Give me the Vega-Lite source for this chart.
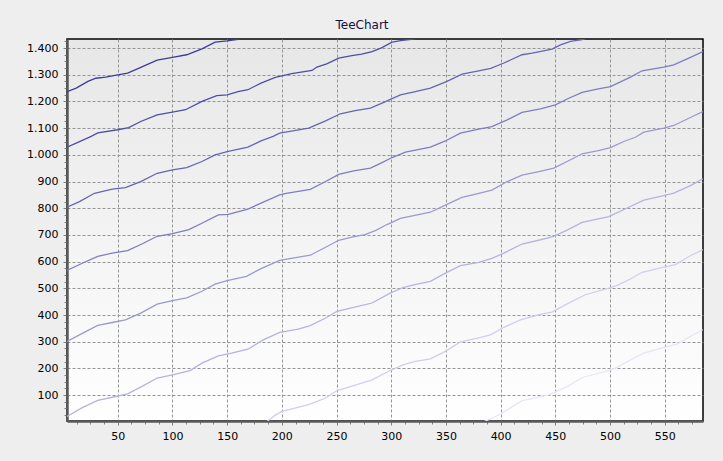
{
  "$schema": "https://vega.github.io/schema/vega-lite/v6.json",
  "width": 636,
  "height": 382,
  "autosize": {"type": "none"},
  "padding": {"left": 67, "top": 39, "right": 20, "bottom": 40},
  "background": "#eeeeee",
  "title": {"text": "TeeChart", "fontSize": 12, "fontWeight": "normal", "font": "DejaVu Sans", "color": "#10104a", "offset": 3, "dx": -23},
  "config": {
    "view": {"stroke": "#000000", "strokeWidth": 1.5, "fill": {"gradient": "linear", "x1": 0, "y1": 0, "x2": 0, "y2": 1, "stops": [{"offset": 0, "color": "#e7e7e7"}, {"offset": 1, "color": "#ffffff"}]}},
    "axis": {
      "labelFont": "DejaVu Sans",
      "labelFontSize": 11,
      "labelColor": "#000000",
      "domainColor": "#5a5a5a",
      "domainWidth": 2.5,
      "tickColor": "#808080",
      "gridColor": "#959595",
      "gridDash": [3, 2],
      "gridWidth": 1,
      "labelOverlap": false,
      "labelFlush": false,
      "title": null
    }
  },
  "data": {"values": [
    {"s": "1", "x": 3.6, "y": 1237}, {"s": "1", "x": 12, "y": 1250}, {"s": "1", "x": 22.7, "y": 1275}, {"s": "1", "x": 30, "y": 1287}, {"s": "1", "x": 39, "y": 1291}, {"s": "1", "x": 50, "y": 1300}, {"s": "1", "x": 59, "y": 1306}, {"s": "1", "x": 69.5, "y": 1325}, {"s": "1", "x": 86, "y": 1355}, {"s": "1", "x": 100, "y": 1365}, {"s": "1", "x": 113, "y": 1375}, {"s": "1", "x": 127, "y": 1397}, {"s": "1", "x": 139, "y": 1422}, {"s": "1", "x": 150, "y": 1427}, {"s": "1", "x": 161.6, "y": 1434}, {"s": "1", "x": 172, "y": 1448},

    {"s": "2", "x": 3.6, "y": 1029}, {"s": "2", "x": 12, "y": 1044}, {"s": "2", "x": 25.7, "y": 1069}, {"s": "2", "x": 31.7, "y": 1082}, {"s": "2", "x": 50, "y": 1094}, {"s": "2", "x": 60, "y": 1102}, {"s": "2", "x": 71, "y": 1125}, {"s": "2", "x": 86, "y": 1150}, {"s": "2", "x": 100, "y": 1160}, {"s": "2", "x": 112, "y": 1169}, {"s": "2", "x": 127, "y": 1200}, {"s": "2", "x": 140.5, "y": 1222}, {"s": "2", "x": 150, "y": 1225}, {"s": "2", "x": 160, "y": 1237}, {"s": "2", "x": 169, "y": 1244}, {"s": "2", "x": 181, "y": 1269}, {"s": "2", "x": 194, "y": 1290}, {"s": "2", "x": 209, "y": 1304}, {"s": "2", "x": 227.6, "y": 1316}, {"s": "2", "x": 232, "y": 1329}, {"s": "2", "x": 241, "y": 1341}, {"s": "2", "x": 252, "y": 1362}, {"s": "2", "x": 264, "y": 1372}, {"s": "2", "x": 273, "y": 1377}, {"s": "2", "x": 282.5, "y": 1387}, {"s": "2", "x": 291.6, "y": 1402}, {"s": "2", "x": 300.7, "y": 1422}, {"s": "2", "x": 310, "y": 1429}, {"s": "2", "x": 320.5, "y": 1434}, {"s": "2", "x": 330, "y": 1446},

    {"s": "3", "x": 3.6, "y": 804}, {"s": "3", "x": 15, "y": 825}, {"s": "3", "x": 28.7, "y": 856}, {"s": "3", "x": 45, "y": 872}, {"s": "3", "x": 57, "y": 877}, {"s": "3", "x": 71, "y": 900}, {"s": "3", "x": 86, "y": 931}, {"s": "3", "x": 100, "y": 944}, {"s": "3", "x": 113, "y": 952}, {"s": "3", "x": 127, "y": 975}, {"s": "3", "x": 139, "y": 1000}, {"s": "3", "x": 150, "y": 1012}, {"s": "3", "x": 169, "y": 1029}, {"s": "3", "x": 181, "y": 1052}, {"s": "3", "x": 192, "y": 1069}, {"s": "3", "x": 198, "y": 1081}, {"s": "3", "x": 206, "y": 1087}, {"s": "3", "x": 224.6, "y": 1100}, {"s": "3", "x": 240, "y": 1127}, {"s": "3", "x": 253.5, "y": 1154}, {"s": "3", "x": 267, "y": 1166}, {"s": "3", "x": 281, "y": 1175}, {"s": "3", "x": 291.6, "y": 1194}, {"s": "3", "x": 308.4, "y": 1225}, {"s": "3", "x": 322, "y": 1237}, {"s": "3", "x": 335.8, "y": 1250}, {"s": "3", "x": 351, "y": 1275}, {"s": "3", "x": 364.7, "y": 1302}, {"s": "3", "x": 380, "y": 1315}, {"s": "3", "x": 391, "y": 1324}, {"s": "3", "x": 403, "y": 1344}, {"s": "3", "x": 419.6, "y": 1375}, {"s": "3", "x": 428.8, "y": 1381}, {"s": "3", "x": 447, "y": 1396}, {"s": "3", "x": 454.7, "y": 1412}, {"s": "3", "x": 463.8, "y": 1425}, {"s": "3", "x": 474.5, "y": 1432}, {"s": "3", "x": 485, "y": 1445},

    {"s": "4", "x": 3.6, "y": 567}, {"s": "4", "x": 18, "y": 595}, {"s": "4", "x": 31.7, "y": 620}, {"s": "4", "x": 45, "y": 632}, {"s": "4", "x": 59, "y": 641}, {"s": "4", "x": 72.5, "y": 667}, {"s": "4", "x": 86, "y": 695}, {"s": "4", "x": 100, "y": 705}, {"s": "4", "x": 115, "y": 720}, {"s": "4", "x": 126, "y": 742}, {"s": "4", "x": 142, "y": 775}, {"s": "4", "x": 151, "y": 777}, {"s": "4", "x": 169, "y": 797}, {"s": "4", "x": 181, "y": 819}, {"s": "4", "x": 198, "y": 850}, {"s": "4", "x": 204, "y": 856}, {"s": "4", "x": 226, "y": 871}, {"s": "4", "x": 240, "y": 900}, {"s": "4", "x": 252, "y": 927}, {"s": "4", "x": 265.7, "y": 940}, {"s": "4", "x": 281, "y": 950}, {"s": "4", "x": 291.6, "y": 971}, {"s": "4", "x": 300.7, "y": 990}, {"s": "4", "x": 313, "y": 1010}, {"s": "4", "x": 335.8, "y": 1029}, {"s": "4", "x": 349.5, "y": 1052}, {"s": "4", "x": 363.2, "y": 1081}, {"s": "4", "x": 380, "y": 1096}, {"s": "4", "x": 392, "y": 1106}, {"s": "4", "x": 406, "y": 1131}, {"s": "4", "x": 419.6, "y": 1159}, {"s": "4", "x": 436.4, "y": 1172}, {"s": "4", "x": 450, "y": 1187}, {"s": "4", "x": 462.3, "y": 1212}, {"s": "4", "x": 474.5, "y": 1234}, {"s": "4", "x": 488.2, "y": 1246}, {"s": "4", "x": 500.4, "y": 1256}, {"s": "4", "x": 518.7, "y": 1291}, {"s": "4", "x": 529.3, "y": 1315}, {"s": "4", "x": 549.1, "y": 1329}, {"s": "4", "x": 558.3, "y": 1337}, {"s": "4", "x": 573.5, "y": 1365}, {"s": "4", "x": 584.8, "y": 1387},

    {"s": "5", "x": 3.6, "y": 301}, {"s": "5", "x": 18, "y": 332}, {"s": "5", "x": 31.7, "y": 361}, {"s": "5", "x": 45, "y": 372}, {"s": "5", "x": 57, "y": 382}, {"s": "5", "x": 71, "y": 407}, {"s": "5", "x": 86, "y": 441}, {"s": "5", "x": 100, "y": 454}, {"s": "5", "x": 113, "y": 464}, {"s": "5", "x": 127, "y": 489}, {"s": "5", "x": 139, "y": 516}, {"s": "5", "x": 150, "y": 529}, {"s": "5", "x": 167.7, "y": 545}, {"s": "5", "x": 181, "y": 574}, {"s": "5", "x": 198, "y": 605}, {"s": "5", "x": 226, "y": 624}, {"s": "5", "x": 240, "y": 654}, {"s": "5", "x": 252, "y": 680}, {"s": "5", "x": 264, "y": 692}, {"s": "5", "x": 276, "y": 701}, {"s": "5", "x": 286, "y": 717}, {"s": "5", "x": 296, "y": 739}, {"s": "5", "x": 300.7, "y": 747}, {"s": "5", "x": 308.4, "y": 762}, {"s": "5", "x": 335.8, "y": 785}, {"s": "5", "x": 349.5, "y": 812}, {"s": "5", "x": 364.7, "y": 841}, {"s": "5", "x": 380, "y": 856}, {"s": "5", "x": 392, "y": 868}, {"s": "5", "x": 406, "y": 900}, {"s": "5", "x": 419.6, "y": 924}, {"s": "5", "x": 435, "y": 937}, {"s": "5", "x": 448.6, "y": 950}, {"s": "5", "x": 460.8, "y": 975}, {"s": "5", "x": 474.5, "y": 1004}, {"s": "5", "x": 488.2, "y": 1015}, {"s": "5", "x": 500.4, "y": 1027}, {"s": "5", "x": 512.6, "y": 1050}, {"s": "5", "x": 523.2, "y": 1066}, {"s": "5", "x": 530.9, "y": 1085}, {"s": "5", "x": 549.1, "y": 1100}, {"s": "5", "x": 558.3, "y": 1110}, {"s": "5", "x": 573.5, "y": 1140}, {"s": "5", "x": 584.8, "y": 1162},

    {"s": "6", "x": 3.6, "y": 20}, {"s": "6", "x": 18, "y": 54}, {"s": "6", "x": 31.7, "y": 80}, {"s": "6", "x": 45, "y": 92}, {"s": "6", "x": 59, "y": 105}, {"s": "6", "x": 71, "y": 130}, {"s": "6", "x": 86, "y": 164}, {"s": "6", "x": 100, "y": 176}, {"s": "6", "x": 116, "y": 192}, {"s": "6", "x": 127, "y": 220}, {"s": "6", "x": 142, "y": 247}, {"s": "6", "x": 154, "y": 257}, {"s": "6", "x": 169, "y": 272}, {"s": "6", "x": 183, "y": 307}, {"s": "6", "x": 198, "y": 335}, {"s": "6", "x": 215, "y": 347}, {"s": "6", "x": 226, "y": 360}, {"s": "6", "x": 240, "y": 389}, {"s": "6", "x": 250.5, "y": 414}, {"s": "6", "x": 262.7, "y": 426}, {"s": "6", "x": 282.5, "y": 445}, {"s": "6", "x": 299, "y": 482}, {"s": "6", "x": 311.4, "y": 504}, {"s": "6", "x": 323.6, "y": 516}, {"s": "6", "x": 335.8, "y": 526}, {"s": "6", "x": 349.5, "y": 557}, {"s": "6", "x": 363.2, "y": 585}, {"s": "6", "x": 380, "y": 597}, {"s": "6", "x": 392, "y": 612}, {"s": "6", "x": 403, "y": 632}, {"s": "6", "x": 419.6, "y": 666}, {"s": "6", "x": 436.4, "y": 682}, {"s": "6", "x": 448.6, "y": 695}, {"s": "6", "x": 460.8, "y": 718}, {"s": "6", "x": 474.5, "y": 747}, {"s": "6", "x": 498.9, "y": 769}, {"s": "6", "x": 515.6, "y": 801}, {"s": "6", "x": 530.9, "y": 830}, {"s": "6", "x": 549.1, "y": 847}, {"s": "6", "x": 558.3, "y": 857}, {"s": "6", "x": 573.5, "y": 885}, {"s": "6", "x": 584.8, "y": 910},

    {"s": "7", "x": 186, "y": 0}, {"s": "7", "x": 194, "y": 25}, {"s": "7", "x": 200, "y": 39}, {"s": "7", "x": 224.6, "y": 64}, {"s": "7", "x": 240, "y": 89}, {"s": "7", "x": 250.5, "y": 117}, {"s": "7", "x": 262.7, "y": 132}, {"s": "7", "x": 282.5, "y": 157}, {"s": "7", "x": 299, "y": 192}, {"s": "7", "x": 311.4, "y": 214}, {"s": "7", "x": 322, "y": 226}, {"s": "7", "x": 335.8, "y": 236}, {"s": "7", "x": 349.5, "y": 264}, {"s": "7", "x": 363.2, "y": 299}, {"s": "7", "x": 380, "y": 314}, {"s": "7", "x": 390.7, "y": 326}, {"s": "7", "x": 403, "y": 354}, {"s": "7", "x": 418.1, "y": 382}, {"s": "7", "x": 434.9, "y": 401}, {"s": "7", "x": 447, "y": 411}, {"s": "7", "x": 460.8, "y": 442}, {"s": "7", "x": 477.5, "y": 476}, {"s": "7", "x": 498.9, "y": 501}, {"s": "7", "x": 506.5, "y": 511}, {"s": "7", "x": 518.7, "y": 535}, {"s": "7", "x": 529.3, "y": 560}, {"s": "7", "x": 549.1, "y": 579}, {"s": "7", "x": 559.8, "y": 589}, {"s": "7", "x": 573.5, "y": 622}, {"s": "7", "x": 584.8, "y": 645},

    {"s": "8", "x": 384.5, "y": 0}, {"s": "8", "x": 393.7, "y": 16}, {"s": "8", "x": 399.8, "y": 29}, {"s": "8", "x": 419.6, "y": 79}, {"s": "8", "x": 444, "y": 101}, {"s": "8", "x": 460.8, "y": 132}, {"s": "8", "x": 474.5, "y": 166}, {"s": "8", "x": 498.9, "y": 192}, {"s": "8", "x": 506.5, "y": 204}, {"s": "8", "x": 518.7, "y": 232}, {"s": "8", "x": 530.9, "y": 257}, {"s": "8", "x": 549.1, "y": 279}, {"s": "8", "x": 561.3, "y": 291}, {"s": "8", "x": 573.5, "y": 320}, {"s": "8", "x": 584.8, "y": 345}
  ]},
  "mark": {"type": "line", "clip": true, "strokeWidth": 1.3, "interpolate": "linear"},
  "encoding": {
    "x": {
      "field": "x", "type": "quantitative",
      "scale": {"domain": [3.6, 585], "nice": false, "zero": false},
      "axis": {
        "values": [12.5, 25, 37.5, 50, 62.5, 75, 87.5, 100, 112.5, 125, 137.5, 150, 162.5, 175, 187.5, 200, 212.5, 225, 237.5, 250, 262.5, 275, 287.5, 300, 312.5, 325, 337.5, 350, 362.5, 375, 387.5, 400, 412.5, 425, 437.5, 450, 462.5, 475, 487.5, 500, 512.5, 525, 537.5, 550, 562.5, 575],
        "labelExpr": "datum.value % 50 === 0 ? datum.value : ''",
        "gridOpacity": {"condition": {"test": "datum.value % 50 === 0", "value": 1}, "value": 0},
        "tickSize": {"condition": {"test": "datum.value % 50 === 0", "value": 4}, "value": 3},
        "labelPadding": 5
      }
    },
    "y": {
      "field": "y", "type": "quantitative",
      "scale": {"domain": [3, 1434], "nice": false, "zero": false},
      "axis": {
        "values": [25, 50, 75, 100, 125, 150, 175, 200, 225, 250, 275, 300, 325, 350, 375, 400, 425, 450, 475, 500, 525, 550, 575, 600, 625, 650, 675, 700, 725, 750, 775, 800, 825, 850, 875, 900, 925, 950, 975, 1000, 1025, 1050, 1075, 1100, 1125, 1150, 1175, 1200, 1225, 1250, 1275, 1300, 1325, 1350, 1375, 1400, 1425],
        "labelExpr": "datum.value % 100 === 0 ? replace(format(datum.value, ','), ',', '.') : ''",
        "gridOpacity": {"condition": {"test": "datum.value % 100 === 0", "value": 1}, "value": 0},
        "tickSize": {"condition": {"test": "datum.value % 100 === 0", "value": 4}, "value": 3},
        "labelPadding": 5
      }
    },
    "color": {
      "field": "s", "type": "nominal",
      "scale": {"domain": ["1", "2", "3", "4", "5", "6", "7", "8"], "range": ["#3c3c9c", "#4e4eaa", "#6565b5", "#7e7ec2", "#9a9acf", "#b4b4de", "#cfcfeb", "#e6e6f5"]},
      "legend": null
    }
  }
}
